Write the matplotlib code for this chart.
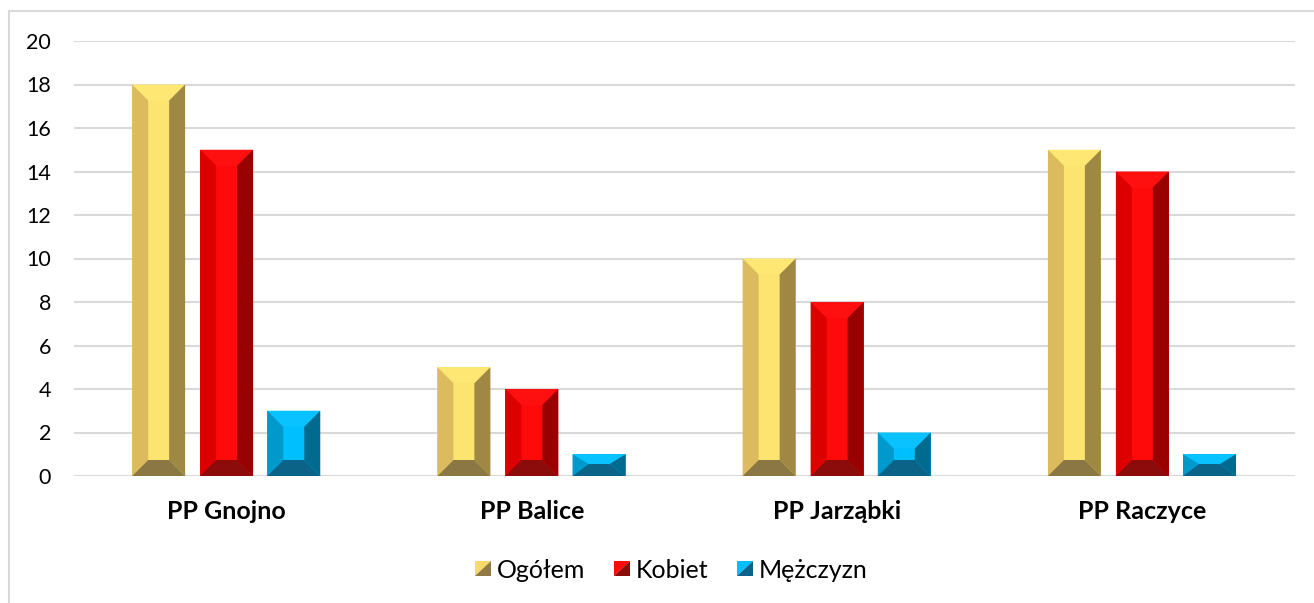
import matplotlib
matplotlib.use("Agg")
import matplotlib.pyplot as plt
from matplotlib.patches import Polygon
from matplotlib.legend_handler import HandlerBase
from matplotlib.lines import Line2D
import numpy as np

categories = ["PP Gnojno", "PP Balice", "PP Jarząbki", "PP Raczyce"]
series_names = ["Ogółem", "Kobiet", "Mężczyzn"]
ogolem = [18, 5, 10, 15]
kobiet = [15, 4, 8, 14]
mezczyzn = [3, 1, 2, 1]
yticks = [0, 2, 4, 6, 8, 10, 12, 14, 16, 18, 20]

# face colours: center, left, right, top, bottom
palettes = [
    dict(center="#FDE36F", left="#DCBB5E", right="#9E8844", top="#FEE772", bottom="#8A7743"),
    dict(center="#FF0A0A", left="#DD0000", right="#990000", top="#FF1010", bottom="#8C0C0C"),
    dict(center="#00BFFF", left="#0099CC", right="#006B8F", top="#0AC2FF", bottom="#0B6487"),
]

plt.rcParams["font.family"] = ["Lato", "DejaVu Sans"]

W, H = 1314, 603
fig = plt.figure(figsize=(W / 100, H / 100), dpi=100)
ax = fig.add_axes([74 / W, 1 - 476 / H, (1295 - 74) / W, (476 - 41) / H])

x = np.arange(len(categories))
offsets = [-0.2227, 0.0, 0.22]
bw = 0.1736
series = [ogolem, kobiet, mezczyzn]

ax.set_xlim(-0.5, len(categories) - 0.5)
ax.set_ylim(0, 20)

px_per_x = (1295 - 74) / len(categories)
px_per_y = (476 - 41) / 20.0
bev_px = 16
bx = bev_px / px_per_x
by_full = bev_px / px_per_y

for vals, off, pal in zip(series, offsets, palettes):
    bars = ax.bar(x + off, vals, width=bw, color=pal["center"], linewidth=0, zorder=3)
    for p in bars.patches:
        x0, y0 = p.get_x(), p.get_y()
        w, h = p.get_width(), p.get_height()
        x1, y1 = x0 + w, y0 + h
        byt = min(by_full, h * 0.45)
        byb = min(by_full, h * 0.55)
        polys = [
            ([(x0, y1), (x1, y1), (x1 - bx, y1 - byt), (x0 + bx, y1 - byt)], pal["top"]),
            ([(x0, y0), (x0 + bx, y0 + byb), (x0 + bx, y1 - byt), (x0, y1)], pal["left"]),
            ([(x1, y0), (x1, y1), (x1 - bx, y1 - byt), (x1 - bx, y0 + byb)], pal["right"]),
            ([(x0, y0), (x1, y0), (x1 - bx, y0 + byb), (x0 + bx, y0 + byb)], pal["bottom"]),
        ]
        for pts, c in polys:
            ax.add_patch(Polygon(pts, closed=True, facecolor=c, edgecolor="none", zorder=4))

ax.set_yticks(yticks)
ax.set_yticklabels([str(t) for t in yticks], fontsize=15.5, color="#000000")
ax.set_xticks(x)
ax.set_xticklabels(categories, fontsize=18, fontweight="bold", color="#000000")
ax.tick_params(axis="y", length=0, pad=16.5)
ax.tick_params(axis="x", length=0, pad=17)
ax.yaxis.grid(True, color="#D9D9D9", linewidth=1.5, zorder=0)
ax.set_axisbelow(True)
for s in ax.spines.values():
    s.set_visible(False)

# chart frame
fig.add_artist(Line2D([9 / W, 9 / W], [0, 1 - 11 / H], transform=fig.transFigure, color="#D9D9D9", linewidth=1.5))
fig.add_artist(Line2D([9 / W, 1], [1 - 11 / H, 1 - 11 / H], transform=fig.transFigure, color="#D9D9D9", linewidth=1.5))


class BevelHandler(HandlerBase):
    def __init__(self, light, dark):
        super().__init__()
        self.light = light
        self.dark = dark

    def create_artists(self, legend, orig_handle, xdescent, ydescent, width, height, fontsize, trans):
        s = min(width, height)
        x0 = -xdescent + (width - s) / 2
        y0 = -ydescent + (height - s) / 2
        t1 = Polygon([(x0, y0), (x0, y0 + s), (x0 + s, y0 + s)], closed=True,
                     facecolor=self.light, edgecolor="none", transform=trans)
        t2 = Polygon([(x0, y0), (x0 + s, y0), (x0 + s, y0 + s)], closed=True,
                     facecolor=self.dark, edgecolor="none", transform=trans)
        return [t1, t2]


handles = []
hmap = {}
legend_cols = [("#F7DA6A", "#8E7A42"), ("#FF0A0A", "#8C0C0C"), ("#00BFFF", "#0B6487")]
for name, (lc, dc) in zip(series_names, legend_cols):
    h = Line2D([], [])
    handles.append(h)
    hmap[h] = BevelHandler(lc, dc)

fig.legend(handles, series_names, handler_map=hmap, loc="center",
           bbox_to_anchor=(0.511, 1 - 570 / H), ncol=3, frameon=False,
           fontsize=18, handlelength=0.62, handleheight=0.62,
           handletextpad=0.25, columnspacing=1.15)

fig.savefig("out.png", dpi=100, facecolor="white")
